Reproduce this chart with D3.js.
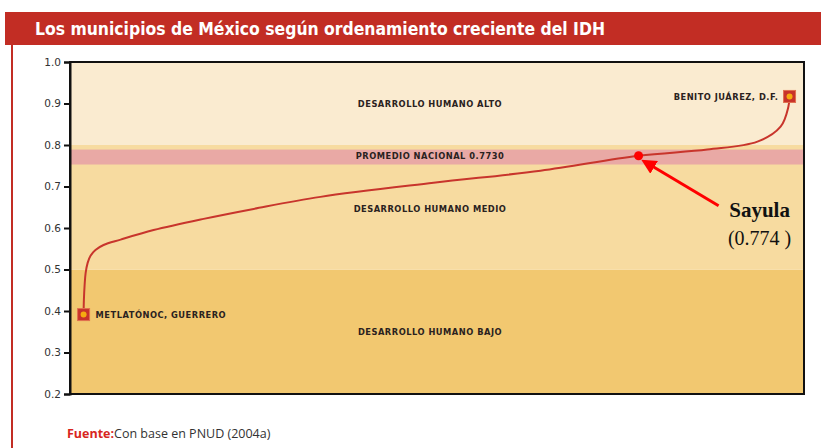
<!DOCTYPE html>
<html>
<head>
<meta charset="utf-8">
<script src="https://cdn.jsdelivr.net/npm/d3@7"></script>
<style>
  body { margin: 0; background: #fff; }
  svg { display: block; }
</style>
</head>
<body>
<div id="vis"></div>
<script>
// municipios ordenados por IDH (posicion en el ranking y valor)
let rank = [1, 2, 4.5, 8, 15, 25, 42, 70, 129, 243, 416, 589, 820, 1211, 1581, 1920, 2158, 2331, 2411, 2438, 2442]
let idh = [0.3914, 0.426, 0.462, 0.491, 0.516, 0.533, 0.547, 0.559, 0.572, 0.595, 0.622, 0.646, 0.675, 0.709, 0.738, 0.774, 0.789, 0.808, 0.844, 0.892, 0.9170]

let yTicks = [0.2, 0.3, 0.4, 0.5, 0.6, 0.7, 0.8, 0.9, 1.0]
let bandLow = [0.2, 0.5, 0.8]
let bandHigh = [0.5, 0.8, 1.0]
let bandNames = ['DESARROLLO HUMANO BAJO', 'DESARROLLO HUMANO MEDIO', 'DESARROLLO HUMANO ALTO']
let bandLabelValue = [0.35, 0.645, 0.9]
let promedio = 0.7730
let sayula = { name: 'Sayula', rank: 1920, idh: 0.774 }
let extremos = ['METLATÓNOC, GUERRERO', 'BENITO JUÁREZ, D.F.']

let W = 821, H = 448
let margin = { top: 62, left: 70, right: 17, bottom: 54 }

let svg = d3.select('#vis')
  .append('svg')
  .attr('width', W)
  .attr('height', H)
  .style('background-color', 'white')

// barra del titulo
svg.append('rect')
  .attr('x', 5).attr('y', 12)
  .attr('width', W - 5).attr('height', 33)
  .attr('fill', '#C22D24')
svg.append('text')
  .attr('x', 35).attr('y', 35)
  .attr('fill', 'white')
  .attr('font-family', 'DejaVu Sans Condensed, DejaVu Sans')
  .attr('font-weight', 'bold')
  .attr('font-size', 18)
  .attr('textLength', 570)
  .attr('lengthAdjust', 'spacingAndGlyphs')
  .text('Los municipios de México según ordenamiento creciente del IDH')

// linea roja lateral
svg.append('rect')
  .attr('x', 11).attr('y', 45)
  .attr('width', 2).attr('height', H - 45)
  .attr('fill', '#C22D24')

let x = d3.scaleLinear()
  .domain([-46, 2492])
  .range([margin.left, W - margin.right])

let y = d3.scaleLinear()
  .domain([0.2, 1.0])
  .range([H - margin.bottom, margin.top])

let g = svg.append('g')

// bandas de desarrollo
g.selectAll('rect.band')
  .data(bandLow)
  .join('rect')
  .attr('class', 'band')
  .attr('x', x.range()[0])
  .attr('width', x.range()[1] - x.range()[0])
  .attr('y', (d, i) => y(bandHigh[i]))
  .attr('height', (d, i) => y(d) - y(bandHigh[i]))
  .attr('fill', (d, i) => ['#F2C870', '#F7DBA0', '#FAEBD0'][i])

// franja del promedio nacional
g.append('rect')
  .attr('x', x.range()[0])
  .attr('width', x.range()[1] - x.range()[0])
  .attr('y', y(promedio + 0.016))
  .attr('height', y(promedio - 0.02) - y(promedio + 0.016))
  .attr('fill', '#E9A9A5')

let labelFont = 'DejaVu Sans'
g.selectAll('text.band')
  .data(bandNames)
  .join('text')
  .attr('class', 'band')
  .attr('x', 430)
  .attr('y', (d, i) => y(bandLabelValue[i]) + 3)
  .attr('text-anchor', 'middle')
  .attr('font-family', labelFont)
  .attr('font-weight', 'bold')
  .attr('font-size', 8.3)
  .attr('letter-spacing', 0.5)
  .attr('fill', '#2a2220')
  .text(d => d)

g.append('text')
  .attr('x', 430)
  .attr('y', y(promedio) + 3)
  .attr('text-anchor', 'middle')
  .attr('font-family', labelFont)
  .attr('font-weight', 'bold')
  .attr('font-size', 8.3)
  .attr('letter-spacing', 0.5)
  .attr('fill', '#2a2220')
  .text('PROMEDIO NACIONAL ' + promedio.toFixed(4))

// curva
let line = d3.line()
  .x((d, i) => x(rank[i]))
  .y(d => y(d))
  .curve(d3.curveCatmullRom.alpha(0.5))

g.append('path')
  .datum(idh)
  .attr('d', line)
  .attr('fill', 'none')
  .attr('stroke', '#C8352C')
  .attr('stroke-width', 2)

// marcadores de los extremos
let ends = [0, rank.length - 1]
g.selectAll('rect.marker')
  .data(ends)
  .join('rect')
  .attr('class', 'marker')
  .attr('x', i => x(rank[i]) - 6)
  .attr('y', i => y(idh[i]) - 6)
  .attr('width', 12).attr('height', 12)
  .attr('fill', '#C8322A')
  .attr('stroke', '#E07050')
  .attr('stroke-width', 1)
g.selectAll('circle.marker')
  .data(ends)
  .join('circle')
  .attr('class', 'marker')
  .attr('cx', i => x(rank[i]))
  .attr('cy', i => y(idh[i]))
  .attr('r', 3)
  .attr('fill', '#F5AA10')

g.selectAll('text.ext')
  .data(ends)
  .join('text')
  .attr('class', 'ext')
  .attr('x', (i, k) => k == 0 ? x(rank[i]) + 12 : x(rank[i]) - 11)
  .attr('y', i => y(idh[i]) + 3.5)
  .attr('text-anchor', (i, k) => k == 0 ? 'start' : 'end')
  .attr('font-family', labelFont)
  .attr('font-weight', 'bold')
  .attr('font-size', 8.3)
  .attr('letter-spacing', 0.5)
  .attr('fill', '#2a2220')
  .text((i, k) => extremos[k])

// Sayula
let sx = x(sayula.rank), sy = y(sayula.idh)
svg.append('defs').append('marker')
  .attr('id', 'head')
  .attr('viewBox', '0 0 10 10')
  .attr('refX', 2).attr('refY', 5)
  .attr('markerWidth', 5).attr('markerHeight', 5)
  .attr('orient', 'auto-start-reverse')
  .append('path')
  .attr('d', 'M0,0 L10,5 L0,10 Z')
  .attr('fill', '#FF0000')

g.append('line')
  .attr('x1', sx + 80).attr('y1', sy + 50)
  .attr('x2', sx + 13).attr('y2', sy + 10)
  .attr('stroke', '#FF0000')
  .attr('stroke-width', 3)
  .attr('marker-end', 'url(#head)')

g.append('circle')
  .attr('cx', sx).attr('cy', sy)
  .attr('r', 4.5)
  .attr('fill', '#FF0000')

g.append('text')
  .attr('x', sx + 121).attr('y', sy + 61)
  .attr('text-anchor', 'middle')
  .attr('font-family', 'Liberation Serif')
  .attr('font-weight', 'bold')
  .attr('font-size', 21)
  .attr('fill', '#111')
  .text(sayula.name)
g.append('text')
  .attr('x', sx + 121).attr('y', sy + 89)
  .attr('text-anchor', 'middle')
  .attr('font-family', 'Liberation Serif')
  .attr('font-size', 20)
  .attr('fill', '#111')
  .text('(' + sayula.idh + ' )')

// marco y eje
g.append('rect')
  .attr('x', x.range()[0])
  .attr('y', y(1.0))
  .attr('width', x.range()[1] - x.range()[0])
  .attr('height', y(0.2) - y(1.0))
  .attr('fill', 'none')
  .attr('stroke', '#111')
  .attr('stroke-width', 2)

let yAxis = g.append('g')
  .attr('transform', 'translate(' + x.range()[0] + ',0)')
  .call(d3.axisLeft(y).tickValues(yTicks).tickFormat(d3.format('.1f')).tickSize(6).tickPadding(3))
yAxis.select('.domain').attr('stroke', '#111').attr('stroke-width', 2)
yAxis.selectAll('.tick line').attr('stroke', '#111').attr('stroke-width', 2)
yAxis.selectAll('.tick text')
  .attr('font-family', labelFont)
  .attr('font-size', 10.5)
  .attr('fill', '#333')

// fuente
let foot = svg.append('text')
  .attr('x', 67).attr('y', 438)
  .attr('font-family', 'Open Sans, DejaVu Sans')
  .attr('font-size', 12.5)
foot.append('tspan').attr('fill', '#D8261E').attr('font-weight', 'bold').text('Fuente:')
foot.append('tspan').attr('fill', '#333').text('Con base en PNUD (2004a)')
</script>
</body>
</html>
